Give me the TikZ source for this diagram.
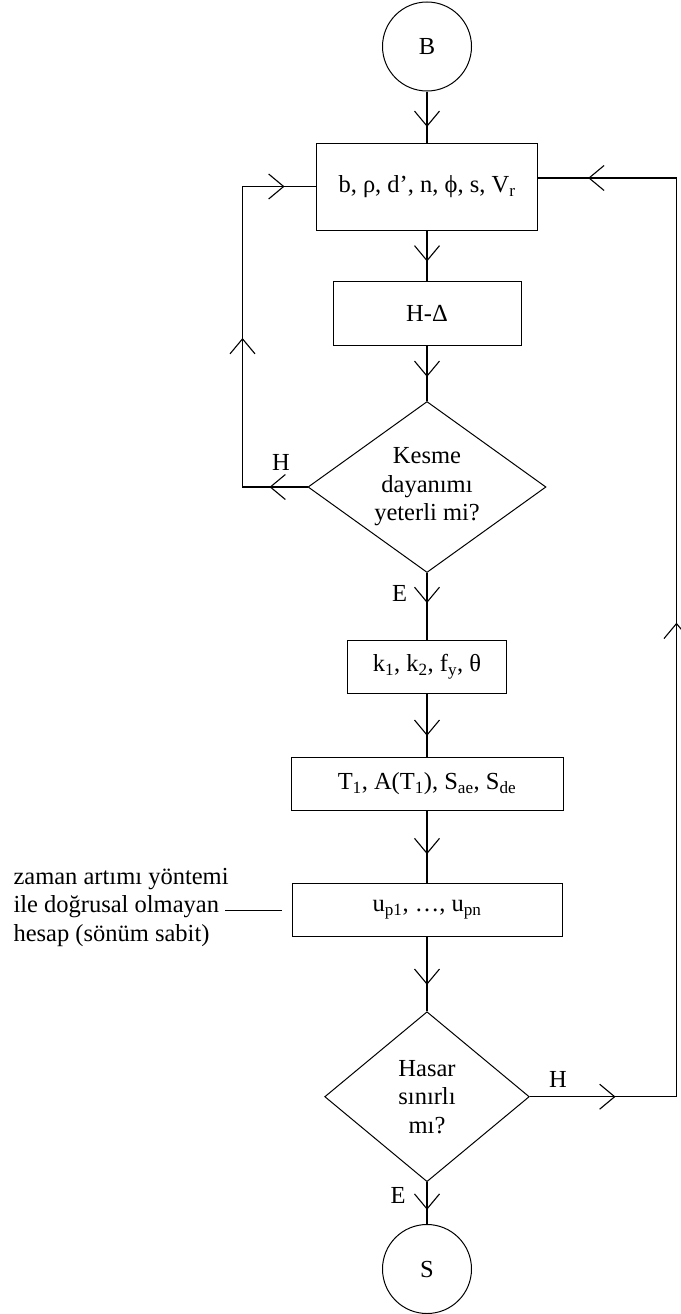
\documentclass[tikz,border=0pt]{standalone}
\usepackage{fontspec}
\setmainfont{Liberation Serif}
\usetikzlibrary{shapes.geometric,arrows.meta,decorations.markings}

\tikzset{
  every node/.style={font=\fontsize{24.5}{28.5}\selectfont},
  term/.style={draw,circle,line width=1pt,minimum size=89pt,inner sep=0pt},
  box/.style={draw,rectangle,line width=1pt,minimum height=53pt,inner sep=0pt},
  ask/.style={draw,diamond,line width=1pt,inner sep=0pt,align=center},
  flow/.style={postaction={decorate,decoration={markings,
      mark=at position #1 with {\arrow{Straight Barb[length=15pt,width=25pt]}}}}},
}

\begin{document}
\begin{tikzpicture}[x=1pt,y=1pt,line width=1.1pt]
\useasboundingbox (0,0) rectangle (680,-1314);

\node[term] (B) at (427,-46.5) {B};
\node[box,minimum width=221pt,minimum height=87pt] (box1) at (427,-186.5) {b, ρ, d’, n, ϕ, s, V\textsubscript{r}};
\node[box,minimum width=188pt,minimum height=64pt] (box2) at (427,-313) {H-Δ};
\node[ask,aspect=1.39,minimum width=238pt,minimum height=171pt] (d1) at (427,-487) {Kesme\\dayanımı\\yeterli mi?};
\node[box,minimum width=159pt] (box3) at (427,-666.7) {k\textsubscript{1}, k\textsubscript{2}, f\textsubscript{y}, θ};
\node[box,minimum width=272pt] (box4) at (427,-784) {T\textsubscript{1}, A(T\textsubscript{1}), S\textsubscript{ae}, S\textsubscript{de}};
\node[box,minimum width=270pt] (box5) at (427,-910) {u\textsubscript{p1}, …, u\textsubscript{pn}};
\node[ask,aspect=1.2,minimum width=204.6pt,minimum height=170pt] (d2) at (427,-1096.7) {Hasar\\sınırlı\\mı?};
\node[term] (S) at (427,-1269) {S};

\node[anchor=west,inner sep=0pt,align=left] (note) at (13,-907) {zaman artımı yöntemi\\ile doğrusal olmayan\\hesap (sönüm sabit)};

\node (H1) at (281,-462.5) {H};
\node (E1) at (399.5,-593) {E};
\node (H2) at (558,-1079) {H};
\node (E2) at (398,-1195) {E};

\foreach \a/\b/\p in {B/box1/0.695, box1/box2/0.62, box2/d1/0.566, d1/box3/0.45,
                      box3/box4/0.666, box4/box5/0.6, box5/d2/0.645, d2/S/0.66}
  \draw[flow=\p] (\a) -- (\b);

\draw[flow=38pt,flow=214pt,flow=407.5pt] (d1.west) -- ++(-65,0) |- (box1.west);
\draw[flow=85.7pt,flow=620.7pt,flow=1153.7pt] (d2.east) -- ++(146.7,0) |- ([yshift=8.5pt]box1.east);

\draw[line width=1pt,shorten <=-4pt,shorten >=10pt] (note.east |- box5.west) -- (box5.west);

\end{tikzpicture}
\end{document}
